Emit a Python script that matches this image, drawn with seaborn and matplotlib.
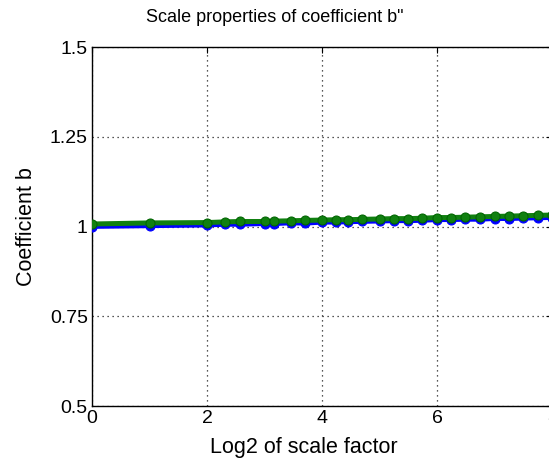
import matplotlib
matplotlib.use("Agg")
import matplotlib.pyplot as plt
import seaborn as sns
import pandas as pd

# log2 of the scale factors that were tested
log2_scale = [0, 1, 2, 2.32, 2.58, 3, 3.17, 3.46, 3.70, 4, 4.25, 4.46, 4.70,
              5, 5.25, 5.49, 5.73, 6, 6.25, 6.49, 6.74, 7, 7.25, 7.49, 7.75, 8]
# coefficient b for the two estimates
coef_b_blue = [1.000, 1.002, 1.004, 1.006, 1.006, 1.008, 1.008, 1.010, 1.009,
               1.012, 1.012, 1.013, 1.014, 1.015, 1.016, 1.016, 1.017, 1.019,
               1.019, 1.020, 1.020, 1.022, 1.022, 1.023, 1.024, 1.025]
coef_b_green = [1.007, 1.010, 1.011, 1.013, 1.014, 1.014, 1.015, 1.016, 1.017,
                1.018, 1.019, 1.019, 1.020, 1.021, 1.022, 1.022, 1.023, 1.025,
                1.025, 1.026, 1.027, 1.028, 1.029, 1.030, 1.031, 1.032]

x_ticks = [0, 2, 4, 6, 8]
y_ticks = [0.5, 0.75, 1.0, 1.25, 1.5]
y_tick_labels = ["0.5", "0.75", "1", "1.25", "1.5"]

sns.set_theme(style="white")
plt.rcParams["font.family"] = ["Liberation Sans", "DejaVu Sans"]
plt.rcParams["text.color"] = "black"
plt.rcParams["axes.labelcolor"] = "black"

df = pd.DataFrame({"x": log2_scale, "blue": coef_b_blue, "green": coef_b_green})

fig = plt.figure(figsize=(5.49, 4.62), dpi=100)
# axes run past the right edge of the canvas
ax = fig.add_axes([0.1676, 0.1212, 0.838, 0.777])

sns.lineplot(data=df, x="x", y="blue", ax=ax, color="#0000ff", linewidth=3.4,
             marker="o", markersize=6.5, markeredgecolor="#0000ff",
             markerfacecolor="#0000ff", zorder=3)
sns.lineplot(data=df, x="x", y="green", ax=ax, color="#108010", linewidth=3.6,
             marker="o", markersize=6.5, markeredgecolor="#006400",
             markerfacecolor="#108010", zorder=4)

ax.set_xlim(0, 8)
ax.set_ylim(0.5, 1.5)
ax.set_xticks(x_ticks)
ax.set_yticks(y_ticks)
ax.set_yticklabels(y_tick_labels)
ax.grid(True, linestyle=(0, (1, 3)), color="#202020", linewidth=0.9)
ax.set_axisbelow(True)

for side in ["left", "bottom", "top", "right"]:
    ax.spines[side].set_visible(True)
    ax.spines[side].set_color("black")
    ax.spines[side].set_linewidth(1.0)

ax.tick_params(axis="both", direction="in", length=4, width=0.8, colors="black",
               labelcolor="black", labelsize=14, top=True, right=True, pad=3)

# title and axis labels, placed in figure pixels
W, H = 549, 462
fig.text(275 / W, 1 - 18 / H, 'Scale properties of coefficient b"',
         fontsize=13, ha="center", va="center", color="black")
ax.set_xlabel("Log2 of scale factor", fontsize=15.5)
ax.set_ylabel("Coefficient b", fontsize=15.5)
ax.xaxis.set_label_coords((304 - 92) / 460, -(447 - 406) / 359)
ax.xaxis.label.set_va("center")
ax.yaxis.set_label_coords(-(92 - 26) / 460, (406 - 227) / 359)
ax.yaxis.label.set_va("center")

fig.savefig("out.png", dpi=100)
